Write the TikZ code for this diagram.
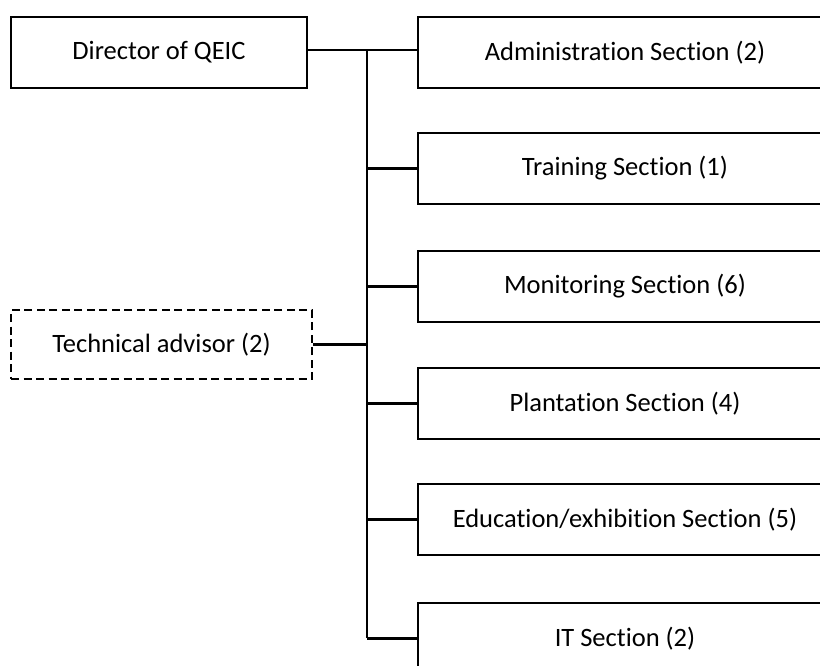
\documentclass[tikz,border=0pt]{standalone}
\usepackage{fontspec}
\setmainfont[Ligatures=NoCommon]{Carlito}
\begin{document}
\begin{tikzpicture}[x=1pt,y=-1pt,
  unitbox/.style={draw=black,line width=2.1pt,minimum width=#1,minimum height=71pt,
    inner sep=0pt,font=\fontsize{26.5}{30}\selectfont},
  advisorbox/.style={unitbox=301pt,minimum height=69pt,dash pattern=on 8pt off 4.5pt},
  link/.style={line width=2.1pt}]
\useasboundingbox (0,0) rectangle (820,666);
\clip (0,0) rectangle (820,666);
% head of the centre and its advisors
\node[unitbox=296pt] (dir) at (159,52.5) {Director of QEIC};
\node[advisorbox] (adv) at (161.5,344.5) {Technical advisor (2)};
% sections
\node[unitbox=414pt] (adm) at (625,52.5) {Administration Section (2)};
\node[unitbox=414pt] (trn) at (625,168.5) {Training Section (1)};
\node[unitbox=414pt] (mon) at (625,286.5) {Monitoring Section (6)};
\node[unitbox=414pt] (pla) at (625,403.5) {Plantation Section (4)};
\node[unitbox=414pt] (edu) at (625,519.5) {Education/exhibition Section (5)};
\node[unitbox=414pt] (its) at (625,638.5) {IT Section (2)};
% trunk line
\coordinate (ttop) at (367,50);
\coordinate (tbot) at (367,638);
\draw[link] (ttop) -- (tbot);
\draw[link] (dir.east |- ttop) -- (adm.west |- ttop);
\draw[link] (adv.east) -- (adv.east -| ttop);
\foreach \s in {trn,mon,pla,edu,its}
  \draw[link] (\s.west -| ttop) -- (\s.west);
\end{tikzpicture}
\end{document}
